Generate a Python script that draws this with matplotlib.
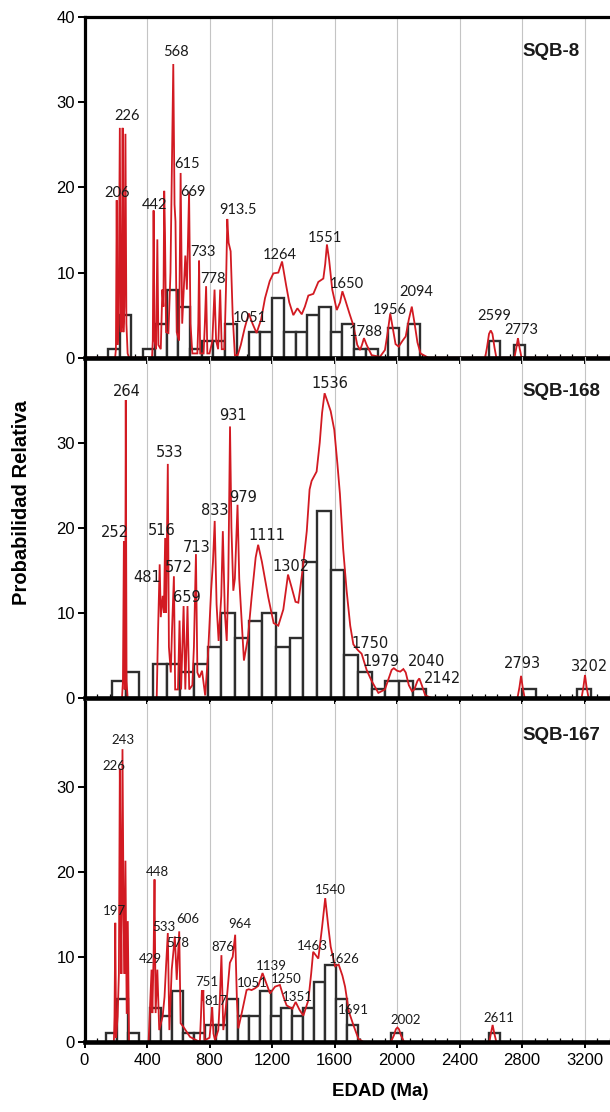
import matplotlib
matplotlib.use("Agg")
import matplotlib.pyplot as plt
from matplotlib.ticker import MultipleLocator, FixedLocator

# ------------------------------------------------------------------
# Detrital zircon U-Pb ages: histogram counts + relative probability
# ------------------------------------------------------------------
sample_names = ["SQB-8", "SQB-168", "SQB-167"]

# --- SQB-8 ---
sqb8_bin_left = [150, 225, 375, 450, 525, 600, 675, 750, 825, 900, 1050, 1125,
                 1200, 1275, 1350, 1425, 1500, 1575, 1650, 1725, 1800, 1940,
                 2072, 2585, 2745]
sqb8_counts = [1, 5, 1, 4, 8, 6, 1, 2, 2, 4, 3, 3,
               7, 3, 3, 5, 6, 3, 4, 1, 1, 3.5,
               4, 2, 1.5]
sqb8_bin_width = 75
sqb8_curve = [
    (0, 0), (196, 0), (201, 1), (206, 18.5), (211, 1.5), (218, 4), (226, 27),
    (232, 3), (238, 4), (244, 27), (249, 3), (255, 6), (262, 26.3), (268, 4),
    (276, 0.5), (285, 0),
    (432, 0), (437, 2), (442, 17.3), (448, 2), (458, 1), (466, 13.9), (473, 1.5),
    (488, 1), (498, 8), (505, 6), (510, 19.6), (515, 14.6), (522, 3), (537, 2.9),
    (550, 10), (568, 34.5), (576, 18), (582, 16), (590, 3), (605, 2), (615, 21.7),
    (625, 4), (645, 12), (655, 8), (669, 19.5), (678, 4), (690, 0.5), (722, 0.5),
    (728, 4), (733, 11.4), (740, 0.5), (762, 0.5), (770, 4), (778, 8.4), (786, 0.5),
    (800, 0.5), (818, 2), (832, 8), (842, 2), (855, 1), (868, 8), (878, 1),
    (895, 1), (905, 8), (913.5, 16.3), (922, 13.5), (935, 12.5), (948, 5),
    (962, 0.3), (980, 0.3), (1000, 1.5), (1025, 3.5), (1051, 5.2), (1075, 4),
    (1101, 2.9), (1130, 4.5), (1155, 7), (1185, 9), (1208, 9.9), (1240, 10),
    (1264, 11.3), (1290, 8.5), (1310, 6.5), (1336, 5.0), (1362, 5.8), (1390, 5.1),
    (1410, 6), (1432, 7.3), (1464, 7.5), (1496, 8.9), (1528, 9.3), (1540, 11),
    (1551, 13.3), (1565, 11.5), (1585, 8), (1614, 5.6), (1635, 6.5), (1650, 7.8),
    (1668, 6.8), (1695, 5.2), (1720, 3.8), (1745, 1.5), (1763, 0.9), (1775, 1.5),
    (1788, 2.3), (1805, 1.5), (1837, 0.3), (1890, 0.1), (1922, 0.9), (1940, 3),
    (1956, 5.2), (1972, 3.5), (1990, 1.6), (2010, 1.3), (2035, 2), (2055, 2.5),
    (2075, 4.5), (2094, 6.0), (2112, 4), (2130, 1.8), (2150, 0.5), (2200, 0),
    (2563, 0), (2575, 1.2), (2588, 2.8), (2599, 3.2), (2610, 2.8), (2623, 1.2),
    (2635, 0), (2750, 0), (2762, 1.1), (2773, 2.3), (2784, 1.1), (2796, 0),
    (3362, 0),
]
sqb8_peaks = ["206", "226", "442", "568", "615", "669", "733", "778", "913.5",
              "1051", "1264", "1551", "1650", "1788", "1956", "2094", "2599", "2773"]

# --- SQB-168 ---
sqb168_bin_left = [175, 262.5, 437.5, 525, 612.5, 700, 787.5, 875, 962.5, 1050,
                   1137.5, 1225, 1312.5, 1400, 1487.5, 1575, 1662.5, 1750,
                   1837.5, 1925, 2012.5, 2100, 2800, 3150]
sqb168_counts = [2, 3, 4, 4, 3, 4, 6, 10, 7, 9,
                 10, 6, 7, 16, 22, 15, 5, 3,
                 1, 2, 2, 1, 1, 1]
sqb168_bin_width = 87.5
sqb168_curve = [
    (0, 0), (240, 0), (246, 2), (252, 18.4), (257, 1), (260, 2), (264, 35),
    (269, 2), (276, 0),
    (462, 0), (470, 7.5), (481, 15.7), (488, 9.5), (500, 12), (508, 10),
    (516, 18.8), (522, 10), (533, 27.5), (540, 6), (552, 3), (560, 8), (572, 14.3),
    (580, 1), (598, 1), (608, 9.1), (618, 1), (634, 10.8), (645, 1), (659, 10.8),
    (670, 1), (690, 1.5), (700, 6), (713, 16.9), (722, 3), (735, 2.4), (752, 3.2),
    (772, 0.3), (790, 5), (810, 12.6), (822, 16), (833, 20.8), (845, 11),
    (858, 6.7), (875, 12), (885, 19.6), (898, 10), (910, 6.7), (920, 14),
    (931, 31.9), (940, 20), (952, 12.6), (962, 14), (979, 22.7), (990, 14),
    (1000, 10.8), (1020, 4.4), (1045, 7), (1069, 11.8), (1095, 16.5), (1111, 18),
    (1135, 16), (1176, 11.8), (1210, 8.8), (1240, 8.5), (1272, 10.4), (1302, 14.5),
    (1325, 13), (1350, 11.3), (1368, 11.2), (1395, 15), (1422, 19.6), (1440, 24.5),
    (1453, 25.5), (1485, 26.6), (1505, 30), (1520, 33.5), (1536, 35.8),
    (1555, 34.8), (1575, 33.7), (1598, 31.5), (1618, 27.5), (1634, 24),
    (1655, 17.5), (1677, 12.6), (1700, 8.5), (1720, 6.3), (1750, 5.6),
    (1773, 5.2), (1805, 3.3), (1837, 2.0), (1880, 0.6), (1922, 1.0), (1950, 2.5),
    (1965, 3.3), (1979, 3.5), (2000, 3.2), (2020, 3.1), (2040, 3.4), (2055, 3.0),
    (2075, 1.5), (2095, 0.8), (2110, 1.0), (2130, 2.0), (2142, 2.3), (2158, 1.5),
    (2180, 0.3), (2222, 0),
    (2770, 0), (2783, 1.3), (2793, 2.6), (2803, 1.3), (2816, 0),
    (3180, 0), (3192, 1.3), (3202, 2.7), (3212, 1.3), (3225, 0), (3362, 0),
]
sqb168_peaks = ["252", "264", "481", "516", "533", "572", "659", "713", "833",
                "931", "979", "1111", "1302", "1536", "1750", "1979", "2040",
                "2142", "2793", "3202"]

# --- SQB-167 ---
sqb167_bin_left = [140, 210, 280, 420, 490, 560, 630, 700, 770, 840, 910, 980,
                   1050, 1120, 1190, 1260, 1330, 1400, 1470, 1540, 1610, 1680,
                   1960, 2590]
sqb167_counts = [1, 5, 1, 4, 3, 6, 1, 1, 2, 2, 5, 3,
                 3, 6, 3, 4, 3, 4, 7, 9, 5, 2,
                 1, 1]
sqb167_bin_width = 70
sqb167_curve = [
    (0, 0), (188, 0), (192, 3), (197, 14), (202, 0.5), (212, 3), (220, 8),
    (226, 32.1), (231, 19.3), (236, 8), (243, 34.4), (250, 15), (256, 8),
    (262, 21.3), (270, 3.3), (277, 14.2), (285, 0),
    (410, 0), (419, 4), (429, 8.5), (434, 3.4), (442, 10), (448, 19.1), (455, 3.4),
    (466, 8.5), (478, 1.4), (500, 3), (512, 5.3), (522, 9), (533, 12.8),
    (543, 1.4), (558, 8.5), (578, 12.4), (590, 7.3), (606, 13.0), (615, 2.2),
    (632, 1.8), (675, 0.6), (738, 0), (745, 3), (751, 6.1), (756, 4.9), (760, 6.1),
    (768, 0.2), (800, 0.5), (812, 3), (817, 4.1), (825, 1), (835, 0.2), (856, 1.4),
    (866, 5), (876, 10.2), (888, 1.4), (910, 5), (930, 9.3), (948, 10),
    (964, 12.6), (975, 5), (984, 1.6), (1006, 3.4), (1037, 6.1), (1051, 6.2),
    (1069, 6.1), (1090, 6.3), (1112, 6.6), (1139, 8.1), (1165, 6.8), (1187, 5.7),
    (1219, 6.5), (1250, 6.7), (1275, 5.2), (1293, 4.3), (1330, 3.9), (1351, 4.7),
    (1375, 3.8), (1400, 3.1), (1432, 4.9), (1450, 8), (1463, 10.6), (1496, 9.8),
    (1520, 13.5), (1540, 16.9), (1560, 13.5), (1575, 11.2), (1603, 8.9),
    (1626, 9.1), (1650, 7.8), (1667, 6.5), (1691, 3.6), (1720, 2.0), (1752, 0.4),
    (1784, 0),
    (1960, 0), (1980, 0.8), (1992, 1.5), (2002, 1.7), (2012, 1.5), (2024, 0.8),
    (2045, 0), (2590, 0), (2600, 1.0), (2611, 2.0), (2622, 1.0), (2635, 0),
    (3362, 0),
]
sqb167_peaks = ["197", "226", "243", "429", "448", "533", "578", "606", "751",
                "817", "876", "964", "1051", "1139", "1250", "1351", "1463",
                "1540", "1626", "1691", "2002", "2611"]

x_ticks = [0, 400, 800, 1200, 1600, 2000, 2400, 2800, 3200]
x_label = "EDAD (Ma)"
y_label = "Probabilidad Relativa"

# ------------------------------------------------------------------
# Layout: where each peak label sits (age, probability) on its panel
# ------------------------------------------------------------------
label_xy = [
    {"206": (206, 19.3), "226": (270, 28.4), "442": (451, 17.9), "568": (585, 35.9),
     "615": (654, 22.7), "669": (696, 19.5), "733": (760, 12.4), "778": (820, 9.2),
     "913.5": (980, 17.3), "1051": (1059, 4.7), "1264": (1251, 12.1),
     "1551": (1539, 14.1), "1650": (1677, 8.7), "1788": (1798, 3.0),
     "1956": (1954, 5.6), "2094": (2125, 7.7), "2599": (2620, 4.9),
     "2773": (2795, 3.2)},
    {"252": (195, 19.5), "264": (270, 36.0), "481": (402, 14.1), "516": (494, 19.7),
     "533": (547, 28.8), "572": (605, 15.3), "659": (658, 11.8), "713": (718, 17.7),
     "833": (835, 22.0), "931": (948, 33.2), "979": (1012, 23.5),
     "1111": (1165, 19.1), "1302": (1319, 15.4), "1536": (1571, 36.9),
     "1750": (1824, 6.4), "1979": (1898, 4.3), "2040": (2186, 4.3),
     "2142": (2293, 2.3), "2793": (2800, 4.1), "3202": (3229, 3.7)},
    {"197": (191, 15.4), "226": (191, 32.4), "243": (248, 35.5), "429": (419, 9.8),
     "448": (466, 20.0), "533": (509, 13.5), "578": (594, 11.6), "606": (664, 14.4),
     "751": (782, 7.1), "817": (839, 4.8), "876": (888, 11.2), "964": (995, 13.9),
     "1051": (1076, 6.9), "1139": (1193, 8.9), "1250": (1293, 7.4),
     "1351": (1364, 5.3), "1463": (1460, 11.3), "1540": (1575, 17.8),
     "1626": (1660, 9.8), "1691": (1719, 3.8), "2002": (2056, 2.6),
     "2611": (2653, 2.8)},
]
label_font = [("Lato", 10.5), ("DejaVu Sans", 10.5), ("Lato", 9.5)]

panels = [
    (sqb8_bin_left, sqb8_counts, sqb8_bin_width, sqb8_curve, sqb8_peaks),
    (sqb168_bin_left, sqb168_counts, sqb168_bin_width, sqb168_curve, sqb168_peaks),
    (sqb167_bin_left, sqb167_counts, sqb167_bin_width, sqb167_curve, sqb167_peaks),
]

plt.rcParams["font.family"] = ["Liberation Sans", "DejaVu Sans"]

W, H = 610, 1112
fig = plt.figure(figsize=(W / 100, H / 100), dpi=100)
fig.patch.set_facecolor("white")

ax_left = 84.5 / W
ax_w = 1.0 - ax_left
ax_h = 340.5 / H
bottoms_px = [357.7, 698.0, 1042.0]

red = "#d21a22"
bar_edge = "#2e2e2e"

for i, (lefts, counts, width, curve, peaks) in enumerate(panels):
    ax = fig.add_axes([ax_left, (H - bottoms_px[i]) / H, ax_w, ax_h])
    ax.set_xlim(0, 3362)
    ax.set_ylim(0, 40)
    ax.set_facecolor("none")
    ax.set_axisbelow(True)

    # vertical grid
    ax.xaxis.set_major_locator(FixedLocator(x_ticks))
    ax.xaxis.set_minor_locator(MultipleLocator(80))
    ax.grid(axis="x", which="major", color="#c4c4c4", linewidth=0.8, zorder=0)

    # histogram
    ax.bar(lefts, counts, width=width, align="edge", facecolor="white",
           edgecolor=bar_edge, linewidth=1.7, zorder=2)

    # probability density curve
    ages, probs = zip(*curve)
    ax.plot(ages, probs, color=red, linewidth=1.3, zorder=3,
            solid_joinstyle="miter")

    # peak labels
    fam, size = label_font[i]
    for lab in peaks:
        lx, ly = label_xy[i][lab]
        ax.text(lx, ly, lab, ha="center", va="center", fontsize=size,
                family=[fam, "DejaVu Sans"], color="#1a1a1a", zorder=4)

    ax.text(2800, 36.0, sample_names[i], ha="left", va="center",
            fontsize=13.5, fontweight="bold", color="#1a1a1a", zorder=4)

    # spines
    ax.spines["right"].set_visible(False)
    ax.spines["top"].set_visible(i == 0)
    ax.spines["top"].set_linewidth(2.3)
    ax.spines["left"].set_linewidth(2.3)
    ax.spines["bottom"].set_linewidth(3.3)
    for s in ax.spines.values():
        s.set_zorder(5)
        s.set_color("black")

    # ticks
    yt = [0, 10, 20, 30, 40] if i == 0 else [0, 10, 20, 30]
    ax.set_yticks(yt)
    ax.set_yticklabels([str(v) for v in yt])
    ax.tick_params(axis="y", which="major", direction="out", length=5,
                   width=1.4, labelsize=12, pad=2)
    ax.tick_params(axis="x", which="major", direction="out", length=4,
                   width=1.4, labelsize=12, pad=4)
    ax.tick_params(axis="x", which="minor", direction="in", length=3,
                   width=0.9)
    if i < 2:
        ax.tick_params(axis="x", which="major", labelbottom=False)
    else:
        ax.set_xticklabels([str(v) for v in x_ticks])

fig.text(380 / W, 1 - 1092 / H, x_label, ha="center", va="center",
         fontsize=13.5, fontweight="bold")
fig.text(22 / W, 1 - 503 / H, y_label, ha="center", va="center",
         rotation=90, fontsize=14.5, fontweight="bold")

fig.savefig("out.png", dpi=100, facecolor="white")
